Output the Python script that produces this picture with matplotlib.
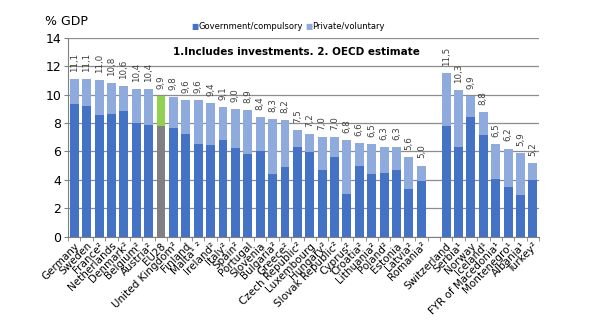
import numpy as np
import matplotlib.pyplot as plt

pays = ["Germany", "Sweden", "France²", "Netherlands", "Denmark²", "Belgium²", "Austria²", "EU28",
        "United Kingdom²", "Finland", "Malta¹ ²", "Ireland²", "Italy²", "Spain²", "Portugal", "Slovenia",
        "Bulgaria²", "Greece²", "Czech Republic²", "Luxembourg", "Hungary²", "Slovak Republic²", "Cyprus²",
        "Croatia²", "Lithuania²", "Poland²", "Estonia", "Latvia²", "Romania²", "",
        "Switzerland", "Serbia¹", "Norway", "Iceland¹", "FYR of Macedonia¹", "Montenegro¹", "Albania¹", "Turkey²"]

total = [11.1, 11.1, 11.0, 10.8, 10.6, 10.4, 10.4, 9.9, 9.8, 9.6, 9.6, 9.4, 9.1, 9.0, 8.9, 8.4,
         8.3, 8.2, 7.5, 7.2, 7.0, 7.0, 6.8, 6.6, 6.5, 6.3, 6.3, 5.6, 5.0, np.nan,
         11.5, 10.3, 9.9, 8.8, 6.5, 6.2, 5.9, 5.2]

gouv = [9.35, 9.2, 8.57, 8.64, 8.85, 8.0, 7.87, 7.8, 7.63, 7.23, 6.52, 6.43, 6.8, 6.22, 5.82, 6.03,
        4.4, 4.9, 6.31, 5.98, 4.69, 5.6, 2.99, 4.97, 4.4, 4.47, 4.69, 3.34, 3.91, np.nan,
        7.8, 6.31, 8.43, 7.16, 4.05, 3.48, 2.92, 3.98]

total = np.array(total)
gouv = np.array(gouv)
prive = total - gouv
x = np.arange(len(pays))

couleur_gouv = ['#4472C4'] * len(pays)
couleur_prive = ['#8FAADC'] * len(pays)
couleur_gouv[7] = '#808080'
couleur_prive[7] = '#92D050'

fig = plt.figure(figsize=(5.97, 3.35), dpi=100)
ax = fig.add_axes([0.114, 0.294, 0.789, 0.593])

largeur = 0.72
ax.bar(x, gouv, largeur, color=couleur_gouv, zorder=3)
ax.bar(x, prive, largeur, bottom=gouv, color=couleur_prive, zorder=3)

# etiquettes des valeurs
for i in range(len(pays)):
    if np.isnan(total[i]):
        continue
    ax.text(x[i], total[i] + 0.5, f"{total[i]:.1f}".replace('.', ','), rotation=90,
            ha='center', va='bottom', fontsize=6.3, color='#404040')

ax.set_xlim(-0.5, len(pays) - 0.5)
ax.set_ylim(0, 14)
ax.set_yticks(np.arange(0, 15, 2))
ax.tick_params(axis='y', labelsize=9, length=3, color='#808080', pad=2)
ax.yaxis.grid(True, color='#8c8c8c', linewidth=0.9, zorder=0)

ax.set_xticks(x)
ax.set_xticklabels(pays, rotation=45, ha='right', rotation_mode='anchor', fontsize=7.5)
ax.tick_params(axis='x', length=0, pad=3)
ax.set_xticks(np.arange(-0.5, len(pays), 1), minor=True)
ax.tick_params(axis='x', which='minor', length=3, color='#808080')

for s in ['top', 'right']:
    ax.spines[s].set_visible(False)
for s in ['left', 'bottom']:
    ax.spines[s].set_color('#808080')

fig.text(0.075, 0.935, "% GDP", fontsize=9, va='center')
fig.text(0.496, 0.845, "1.Includes investments. 2. OECD estimate", fontsize=7.5, fontweight='bold',
         ha='center', va='center')

# legende
fig.text(0.321, 0.922, "■", color='#4472C4', fontsize=5.5, va='center')
fig.text(0.332, 0.922, "Government/compulsory", fontsize=6, va='center')
fig.text(0.512, 0.922, "■", color='#8FAADC', fontsize=5.5, va='center')
fig.text(0.522, 0.922, "Private/voluntary", fontsize=6, va='center')

# titre coupe en haut (seul le bas des lettres est visible)
fig.text(0.005, 1.013, "Figure 4: Gross pension expenditure, public and private (mandatory and voluntary)",
         fontsize=9, fontweight='bold', va='baseline')

fig.savefig('out.png', dpi=100)
